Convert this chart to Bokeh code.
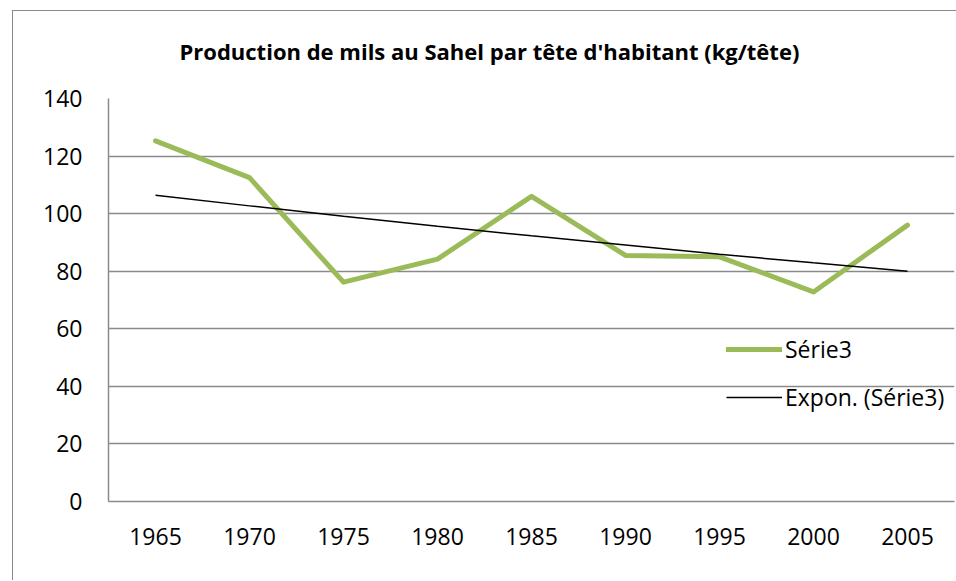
from bokeh.plotting import figure
from bokeh.models import Legend, LegendItem, FixedTicker, Range1d, FactorRange, InlineStyleSheet
from bokeh.embed import file_html
from bokeh.resources import INLINE

years = ["1965", "1970", "1975", "1980", "1985", "1990", "1995", "2000", "2005"]
serie3 = [125.3, 112.5, 76.2, 84.2, 106.0, 85.5, 85.0, 72.8, 96.0]
trend = [106.4, 102.7, 99.1, 95.6, 92.3, 89.1, 85.9, 82.9, 80.0]
y_ticks = [0, 20, 40, 60, 80, 100, 120, 140]

TITLE = "Production de mils au Sahel par tête d'habitant (kg/tête)"
FONT = "Open Sans"
GRID = "#8a8a8a"
GREEN = "#9bbb59"

p = figure(
    x_range=FactorRange(*years, range_padding=0),
    y_range=Range1d(0, 140),
    frame_width=846, frame_height=403,
    min_border_left=108, min_border_right=2,
    min_border_top=98, min_border_bottom=79,
    output_backend="svg", toolbar_location=None,
    title=TITLE,
)
p.outline_line_color = None
p.background_fill_color = "white"
p.border_fill_color = "white"

p.title.text_font = FONT
p.title.text_font_style = "bold"
p.title.text_font_size = "22px"
p.title.align = "left"
p.title.offset = 71
p.title.standoff = 66
p.title.text_color = "black"

p.yaxis.ticker = FixedTicker(ticks=y_ticks)
for ax in (p.xaxis, p.yaxis):
    ax.axis_line_color = GRID
    ax.axis_line_width = 1.5
    ax.major_tick_line_color = None
    ax.minor_tick_line_color = None
    ax.major_label_text_font = FONT
    ax.major_label_text_font_size = "23px"
    ax.major_label_text_color = "black"
p.yaxis.major_label_standoff = 20
p.xaxis.major_label_standoff = 20

p.xgrid.grid_line_color = None
p.ygrid.grid_line_color = GRID
p.ygrid.grid_line_width = 1.5
p.ygrid.ticker = FixedTicker(ticks=y_ticks[1:])

r1 = p.line(years, serie3, line_color=GREEN, line_width=5, line_join="round", line_cap="round")
r2 = p.line(years, trend, line_color="black", line_width=1.5)

legend = Legend(
    items=[LegendItem(label="Série3", renderers=[r1]),
           LegendItem(label="Expon. (Série3)", renderers=[r2])],
    location=(618, 84),
    glyph_width=56, glyph_height=40, label_height=40, spacing=8,
    label_standoff=3, padding=0, margin=0,
    border_line_color=None, background_fill_alpha=0,
    label_text_font=FONT, label_text_font_size="23px", label_text_color="black",
)
p.add_layout(legend)

p.stylesheets.append(InlineStyleSheet(css="""
:host { position: relative; }
:host::after {
  content: "";
  position: absolute;
  left: 12px; top: 10px; right: 0; bottom: 0;
  border-left: 1.5px solid #8a8a8a;
  border-top: 1.5px solid #8a8a8a;
  pointer-events: none;
  z-index: 10;
}
"""))

open("out.html", "w").write(file_html(p, INLINE))
